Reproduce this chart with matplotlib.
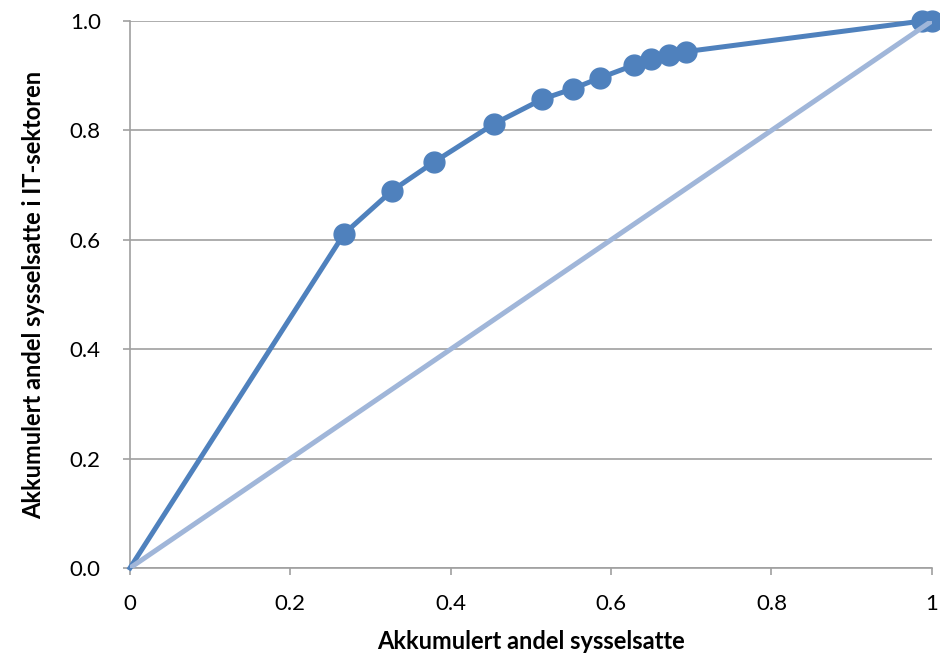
import numpy as np
import matplotlib
matplotlib.use("Agg")
import matplotlib.pyplot as plt

# kumulert andel sysselsatte (x) og andel i IT-sektoren (y)
andel_syss = [0.0, 0.267, 0.327, 0.379, 0.454, 0.514, 0.552, 0.586, 0.628, 0.650, 0.672, 0.693, 0.988, 1.0]
andel_it = [0.0, 0.611, 0.690, 0.742, 0.812, 0.857, 0.876, 0.896, 0.919, 0.930, 0.938, 0.944, 1.0, 1.0]
likhet = [0.0, 1.0]

plt.rcParams['font.family'] = ['Lato', 'DejaVu Sans']

fig = plt.figure(figsize=(9.4, 6.57), dpi=100)
ax = fig.add_axes([0.1383, 0.1355, 0.853, 0.8325])

ax.plot(andel_syss, andel_it, color="#4F81BD", lw=3.6, zorder=3, clip_on=False)
ax.plot(andel_syss[1:], andel_it[1:], "o", color="#4F81BD", ms=15, zorder=4, clip_on=False)
# likhetslinja ligger oppaa
ax.plot(likhet, likhet, color="#A0B6D9", lw=3.6, zorder=5, solid_capstyle="butt")

ax.set_xlim(0, 1)
ax.set_ylim(0, 1)
ax.set_xticks([0, 0.2, 0.4, 0.6, 0.8, 1])
ax.set_xticklabels(["0", "0.2", "0.4", "0.6", "0.8", "1"])
ax.set_yticks([0, 0.2, 0.4, 0.6, 0.8, 1.0])
ax.set_yticklabels(["0.0", "0.2", "0.4", "0.6", "0.8", "1.0"])
ax.yaxis.grid(True, color="#A0A0A0", lw=1.2)
ax.set_axisbelow(True)

for s in ["top", "right"]:
    ax.spines[s].set_visible(False)
for s in ["left", "bottom"]:
    ax.spines[s].set_color("#A0A0A0")
    ax.spines[s].set_linewidth(1.2)
ax.tick_params(axis="both", colors="#A0A0A0", length=5, width=1.2, labelsize=16, labelcolor="black")
ax.tick_params(axis="x", pad=14)
ax.tick_params(axis="y", pad=16)

ax.set_xlabel("Akkumulert andel sysselsatte", fontsize=17, fontweight="bold", labelpad=11)
ax.set_ylabel("Akkumulert andel sysselsatte i IT-sektoren", fontsize=17, fontweight="bold", labelpad=18)

fig.savefig("out.png", dpi=100)
